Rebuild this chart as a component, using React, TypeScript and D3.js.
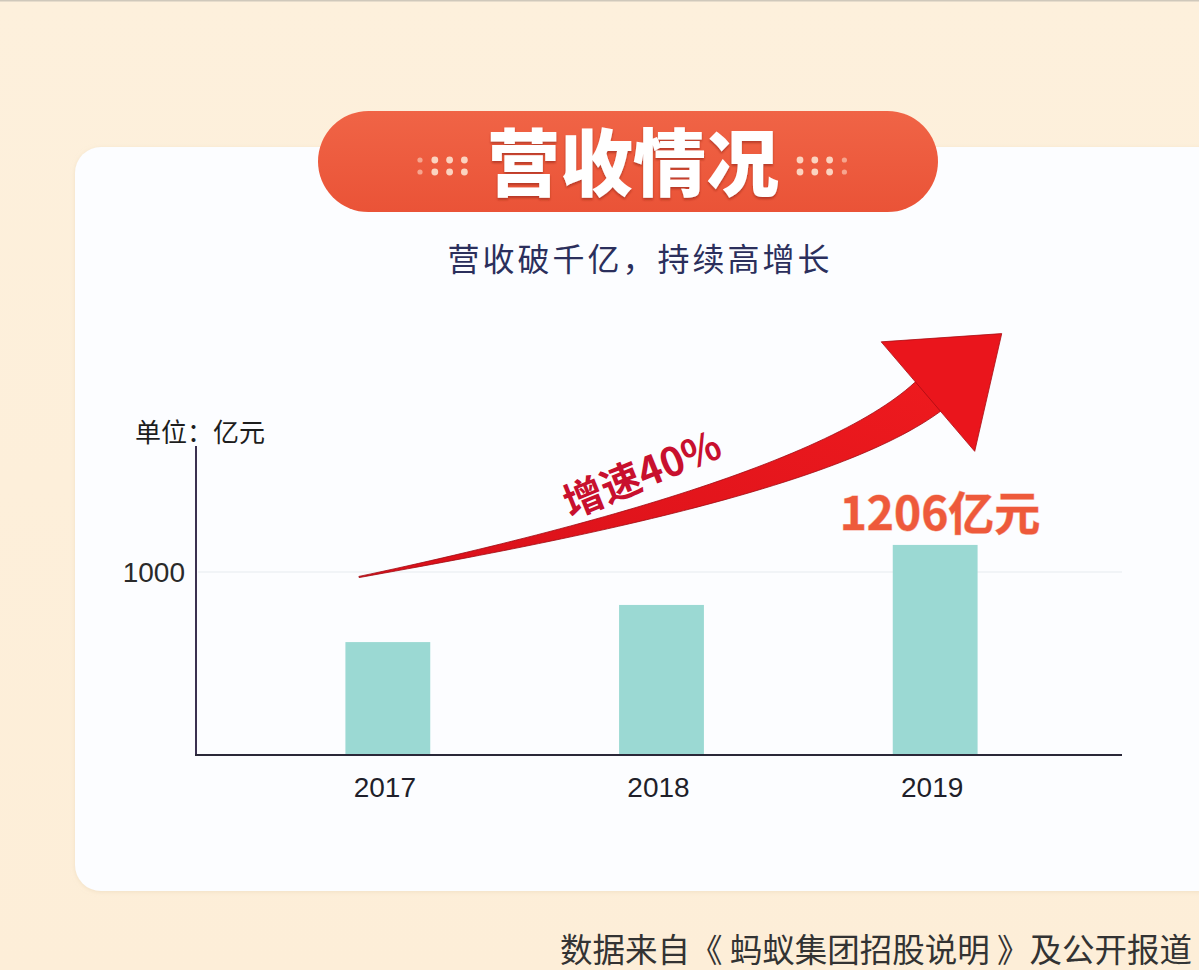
import React, { useEffect } from "react";
import * as d3 from "d3";

const years = ["2017", "2018", "2019"];
const revenue = [617, 820, 1148];
const yTicks = [1000];
const title = "营收情况";
const subtitle = "营收破千亿，持续高增长";
const unitLabel = "单位：亿元";
const growthLabel = "增速40%";
const topLabel = "1206亿元";
const sourceNote = "数据来自《 蚂蚁集团招股说明 》及公开报道";

const W = 1199;
const H = 970;
const CJK = "'Noto Sans CJK SC', 'Noto Sans', sans-serif";
const LAT = "'Liberation Sans', Arial, sans-serif";

const x = d3.scaleBand<string>().domain(years).range([251, 1072]).paddingInner(0.69).paddingOuter(0.345);
const y = d3.scaleLinear().domain([0, 1000]).range([755, 572]);

// decorative growth arrow
function arrowPaths() {
  const P0: [number, number] = [359, 577];
  const P1: [number, number] = [600, 530];
  const P2: [number, number] = [842, 470];
  const P3: [number, number] = [931, 394];
  const bez = (t: number) => {
    const u = 1 - t;
    return [
      u * u * u * P0[0] + 3 * u * u * t * P1[0] + 3 * u * t * t * P2[0] + t * t * t * P3[0],
      u * u * u * P0[1] + 3 * u * u * t * P1[1] + 3 * u * t * t * P2[1] + t * t * t * P3[1],
    ];
  };
  const der = (t: number) => {
    const u = 1 - t;
    return [
      3 * u * u * (P1[0] - P0[0]) + 6 * u * t * (P2[0] - P1[0]) + 3 * t * t * (P3[0] - P2[0]),
      3 * u * u * (P1[1] - P0[1]) + 6 * u * t * (P2[1] - P1[1]) + 3 * t * t * (P3[1] - P2[1]),
    ];
  };
  const upper: [number, number][] = [];
  const lower: [number, number][] = [];
  const N = 60;
  for (let i = 0; i <= N; i++) {
    const t = i / N;
    const [px, py] = bez(t);
    const [dx, dy] = der(t);
    const l = Math.hypot(dx, dy);
    const nx = -dy / l, ny = dx / l;
    const hw = 0.6 + 19 * Math.pow(t, 1.15);
    upper.push([px - nx * hw, py - ny * hw]);
    lower.push([px + nx * hw, py + ny * hw]);
  }
  const shaft = d3.line()([...upper, ...lower.reverse()]) + "Z";
  const d = [P3[0] - P2[0], P3[1] - P2[1]];
  const dl = Math.hypot(d[0], d[1]);
  const ux = d[0] / dl, uy = d[1] / dl;
  const nx = -uy, ny = ux;
  const base: [number, number] = [P3[0] - ux * 4, P3[1] - uy * 4];
  const tip: [number, number] = [base[0] + ux * 97, base[1] + uy * 97];
  const b1: [number, number] = [base[0] - nx * 72, base[1] - ny * 72];
  const b2: [number, number] = [base[0] + nx * 72, base[1] + ny * 72];
  const head = d3.line()([b1, tip, b2]) + "Z";
  return { shaft, head };
}

export default function App() {
  useEffect(() => {
    document.body.style.margin = "0";
  }, []);
  const { shaft, head } = arrowPaths();
  const dotCols = [0, 1, 2, 3];
  const dotRows = [0, 1];
  return (
    <svg width={W} height={H} style={{ display: "block" }}>
      <defs>
        <linearGradient id="bg" x1="0" y1="0" x2="0" y2="1">
          <stop offset="0" stopColor="#fdf0dc" />
          <stop offset="1" stopColor="#fdeed8" />
        </linearGradient>
        <linearGradient id="arrowGrad" x1="0" y1="1" x2="1" y2="0">
          <stop offset="0" stopColor="#d9101a" />
          <stop offset="1" stopColor="#ee1a1e" />
        </linearGradient>
        <linearGradient id="badgeGrad" x1="0" y1="0" x2="0" y2="1">
          <stop offset="0" stopColor="#f06446" />
          <stop offset="1" stopColor="#ea5337" />
        </linearGradient>
        <filter id="cardShadow" x="-5%" y="-5%" width="110%" height="110%">
          <feDropShadow dx="0" dy="1" stdDeviation="2" floodColor="#e8d6b8" floodOpacity="0.6" />
        </filter>
        <filter id="titleShadow" x="-10%" y="-10%" width="120%" height="130%">
          <feDropShadow dx="0" dy="2" stdDeviation="1" floodColor="#8a1f10" floodOpacity="0.55" />
        </filter>
      </defs>
      <rect x={0} y={0} width={W} height={H} fill="url(#bg)" />
      <rect x={0} y={0} width={W} height={1.5} fill="#cfc8bb" />
      {/* card */}
      <rect x={75} y={147} width={1150} height={744} rx={26} fill="#fcfdff" filter="url(#cardShadow)" />

      {/* title badge */}
      <rect x={318} y={111} width={620} height={101} rx={50.5} fill="url(#badgeGrad)" />
      {dotRows.map((r) =>
        dotCols.map((c) => (
          <circle key={`l${r}${c}`} cx={420 + c * 14.8} cy={160 + r * 12} r={c === 0 ? 2.6 : 3.4} fill={c === 0 ? "#f6a58e" : "#fbd3c0"} />
        ))
      )}
      {dotRows.map((r) =>
        dotCols.map((c) => (
          <circle key={`r${r}${c}`} cx={800 + c * 14.8} cy={160 + r * 12} r={c === 3 ? 2.6 : 3.4} fill={c === 3 ? "#f6a58e" : "#fbd3c0"} />
        ))
      )}
      <text x={633} y={190} textAnchor="middle" fontFamily={CJK} fontWeight={900} fontSize={73} fill="#ffffff" filter="url(#titleShadow)">
        {title}
      </text>

      {/* subtitle */}
      <text x={640} y={271} textAnchor="middle" fontFamily={CJK} fontSize={32} letterSpacing={3} fill="#2b2f5c">
        {subtitle}
      </text>

      {/* axes */}
      {yTicks.map((t) => (
        <line key={`g${t}`} x1={198} x2={1122} y1={y(t)} y2={y(t)} stroke="#eef0f4" strokeWidth={1.5} />
      ))}
      {years.map((yr, i) => (
        <rect key={yr} x={x(yr)!} y={y(revenue[i])} width={x.bandwidth()} height={y(0) - y(revenue[i])} fill="#9bd9d3" />
      ))}
      <line x1={196} x2={196} y1={446} y2={y(0)} stroke="#3b3150" strokeWidth={2} />
      <line x1={195} x2={1122} y1={y(0)} y2={y(0)} stroke="#2a2838" strokeWidth={2} />
      {yTicks.map((t) => (
        <text key={`t${t}`} x={185} y={y(t)} dy="0.36em" textAnchor="end" fontFamily={LAT} fontSize={28} fill="#2a2a2a">
          {t}
        </text>
      ))}
      {years.map((yr) => (
        <text key={`x${yr}`} x={x(yr)! + x.bandwidth() / 2 - 3} y={797} textAnchor="middle" fontFamily={LAT} fontSize={28} fill="#1f1f2a">
          {yr}
        </text>
      ))}
      <text x={135} y={442} fontFamily={CJK} fontSize={26} fill="#1d1d1d">
        {unitLabel}
      </text>

      {/* arrow */}
      <path d={shaft} fill="url(#arrowGrad)" stroke="#9e0a12" strokeWidth={0.8} />
      <path d={head} fill="#ea151c" stroke="#a80b12" strokeWidth={0.8} />
      <g transform="translate(642,474) rotate(-22)">
        <text x={0} y={0} dy="0.36em" textAnchor="middle" fontFamily={CJK} fontWeight={700} fontSize={40} fill="#c8102e">
          {growthLabel}
        </text>
      </g>
      <text x={940} y={530} textAnchor="middle" fontFamily={CJK} fontWeight={700} fontSize={46} fill="#ee5a3b" stroke="#f7b19f" strokeWidth={1} paintOrder="stroke">
        {topLabel}
      </text>

      {/* source note */}
      <text x={1192} y={962} textAnchor="end" fontFamily={CJK} fontSize={32.5} fill="#333333">
        {sourceNote}
      </text>
    </svg>
  );
}
